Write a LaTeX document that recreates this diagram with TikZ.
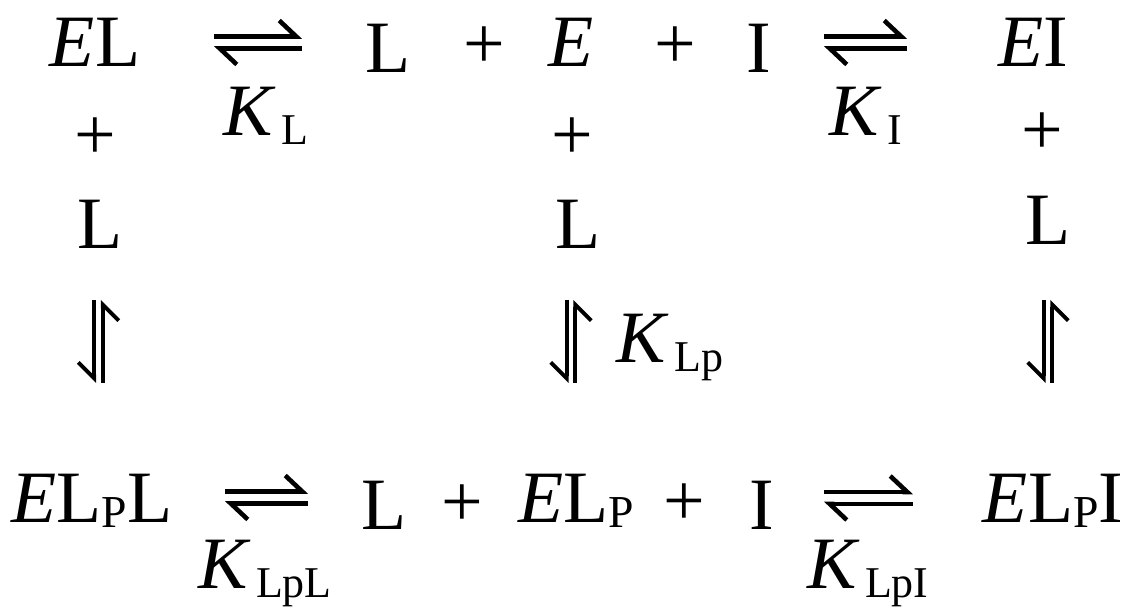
\documentclass[tikz,border=0pt]{standalone}
\usepackage{fontspec}
\setmainfont{Liberation Serif}
\usetikzlibrary{arrows.meta,positioning}
\newcommand{\ksub}[1]{\kern1.5pt\raisebox{-2.3pt}{\fontsize{12.5}{13}\selectfont #1}}
\newcommand{\smallP}{\raisebox{-1.2pt}{\fontsize{13}{13}\selectfont P}}

\begin{document}
\begin{tikzpicture}[x=0.01cm,y=-0.01cm,font=\fontsize{21}{25}\selectfont,
        sp/.style={anchor=base,inner sep=0pt},
        pl/.style={anchor=center,inner sep=0pt},
        harp/.style={line width=1.3pt,-{Straight Barb[left,length=1.7mm,width=3.2mm]}},
        vharp/.style={line width=1.1pt,-{Straight Barb[right,length=1.6mm,width=3.2mm]}}]
        \useasboundingbox (0,0) rectangle (1127,610);

        % top row
        \node (EL) [sp] at (95,67) {\textit{E}L};
        \node (L1) [sp] at (388,73) {L};
        \node (p1) [pl] at (484,48) {+};
        \node (E) [sp] at (571,67) {\textit{E}};
        \node (p2) [pl] at (675,48) {+};
        \node (I1) [sp] at (759,73) {I};
        \node (EI) [sp] at (1033,67) {\textit{E}I};
        \node (KL) [sp] at (266,136) {\textit{K}\ksub{L}};
        \node (KI) [sp] at (866,136) {\textit{K}\ksub{I}};

        % the added L
        \node (p3) [pl] at (95,139) {+};
        \node (p4) [pl] at (572,139) {+};
        \node (p5) [pl] at (1042,134) {+};
        \node (L2) [sp] at (100,249) {L};
        \node (L3) [sp] at (578,249) {L};
        \node (L4) [sp] at (1048,245) {L};
        \node (KLp) [sp] at (670,363) {\textit{K}\ksub{Lp}};

        % bottom row
        \node (ELpL) [sp] at (92,523) {\textit{E}L\smallP L};
        \node (L5) [sp] at (384,530) {L};
        \node (p6) [pl] at (462,506) {+};
        \node (ELp) [sp] at (576,523) {\textit{E}L\smallP};
        \node (p7) [pl] at (684,505) {+};
        \node (I2) [sp] at (762,530) {I};
        \node (ELpI) [sp] at (1053,523) {\textit{E}L\smallP I};
        \node (KLpL) [sp] at (265,589) {\textit{K}\ksub{LpL}};
        \node (KLpI) [sp] at (868,589) {\textit{K}\ksub{LpI}};

        % arrow ends
        \coordinate (a1w) at (214,42.5);
        \coordinate (a1e) at (302,42.5);
        \coordinate (a2w) at (824,42.5);
        \coordinate (a2e) at (907,42.5);
        \coordinate (a3w) at (225,497.5);
        \coordinate (a3e) at (308,497.5);
        \coordinate (a4w) at (824,498);
        \coordinate (a4e) at (913,498);
        \coordinate (v1n) at (98.5,300);
        \coordinate (v1s) at (98.5,383);
        \coordinate (v2n) at (571,300);
        \coordinate (v2s) at (571,383);
        \coordinate (v3n) at (1048,300);
        \coordinate (v3s) at (1048,383);

        \draw[harp] ([yshift=1.7pt]a1w) -- ([yshift=1.7pt]a1e);
        \draw[harp] ([yshift=-1.7pt]a1e) -- ([yshift=-1.7pt]a1w);
        \draw[harp] ([yshift=1.7pt]a2w) -- ([yshift=1.7pt]a2e);
        \draw[harp] ([yshift=-1.7pt]a2e) -- ([yshift=-1.7pt]a2w);
        \draw[harp] ([yshift=1.7pt]a3w) -- ([yshift=1.7pt]a3e);
        \draw[harp] ([yshift=-1.7pt]a3e) -- ([yshift=-1.7pt]a3w);
        \draw[harp] ([yshift=1.7pt]a4w) -- ([yshift=1.7pt]a4e);
        \draw[harp] ([yshift=-1.7pt]a4e) -- ([yshift=-1.7pt]a4w);

        \draw[vharp] ([xshift=-1.2pt]v1n) -- ([xshift=-1.2pt]v1s);
        \draw[vharp] ([xshift=1.2pt]v1s) -- ([xshift=1.2pt]v1n);
        \draw[vharp] ([xshift=-1.2pt]v2n) -- ([xshift=-1.2pt]v2s);
        \draw[vharp] ([xshift=1.2pt]v2s) -- ([xshift=1.2pt]v2n);
        \draw[vharp] ([xshift=-1.2pt]v3n) -- ([xshift=-1.2pt]v3s);
        \draw[vharp] ([xshift=1.2pt]v3s) -- ([xshift=1.2pt]v3n);
\end{tikzpicture}
\end{document}
